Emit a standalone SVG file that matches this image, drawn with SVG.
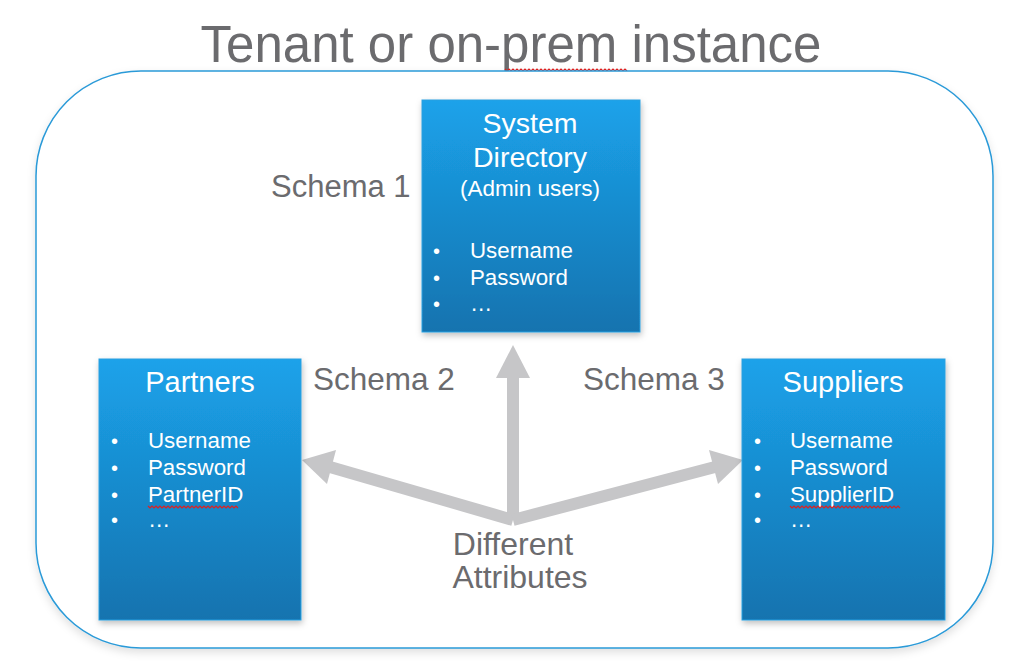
<svg xmlns="http://www.w3.org/2000/svg" width="1024" height="670" viewBox="0 0 1024 670">
  <style>
    .gray { font-family: "Liberation Sans", Arial, sans-serif; fill: #6b6b6e; }
    .w { font-family: "Liberation Sans", Arial, sans-serif; fill: #ffffff; }
    .box { fill: url(#blue); stroke: #2aa0e0; stroke-width: 1; filter: url(#sh); }
    .arr { stroke: #c6c6c8; stroke-width: 12; fill: none; }
    .head { fill: #c6c6c8; }
    .squig { fill: none; stroke: #e02020; stroke-width: 1.2; }
  </style>
  <defs>
    <linearGradient id="blue" x1="0" y1="0" x2="0" y2="1">
      <stop offset="0" stop-color="#1ba2ea"/>
      <stop offset="1" stop-color="#1573af"/>
    </linearGradient>
    <filter id="sh" x="-10%" y="-10%" width="130%" height="130%">
      <feDropShadow dx="1" dy="3" stdDeviation="3" flood-color="#000" flood-opacity="0.25"/>
    </filter>
    <filter id="sh2" x="-5%" y="-5%" width="110%" height="115%">
      <feDropShadow dx="0" dy="4" stdDeviation="4" flood-color="#000" flood-opacity="0.12"/>
    </filter>
  </defs>

  <text class="gray" x="511" y="62" font-size="51" text-anchor="middle">Tenant or on-prem instance</text>
  <path class="squig" d="M505,69 l2,2 l2,-2 l2,2 l2,-2 l2,2 l2,-2 l2,2 l2,-2 l2,2 l2,-2 l2,2 l2,-2 l2,2 l2,-2 l2,2 l2,-2 l2,2 l2,-2 l2,2 l2,-2 l2,2 l2,-2 l2,2 l2,-2 l2,2 l2,-2 l2,2 l2,-2 l2,2 l2,-2 l2,2 l2,-2 l2,2 l2,-2 l2,2 l2,-2 l2,2 l2,-2 l2,2 l2,-2 l2,2 l2,-2 l2,2 l2,-2 l2,2 l2,-2 l2,2 l2,-2 l2,2 l2,-2 l2,2 l2,-2 l2,2 l2,-2 l2,2 l2,-2 l2,2 l2,-2 l2,2 l2,-2 l2,2"/>

  <rect id="outer" x="36" y="71" width="957" height="577" rx="105" ry="105" fill="#ffffff" stroke="#2a9ad8" stroke-width="1.5" filter="url(#sh2)"/>

  <g id="connectors">
    <line class="arr" x1="513" y1="520" x2="513" y2="374"/>
    <polygon class="head" points="513,345 530,378 496,378"/>
    <line class="arr" x1="513" y1="520" x2="330" y2="467"/>
    <polygon class="head" points="302,460 336,450 327,484"/>
    <line class="arr" x1="513" y1="520" x2="715" y2="467"/>
    <polygon class="head" points="743,460 709,450 718,484"/>
  </g>

  <g id="labels">
    <text class="gray" x="271" y="197" font-size="31">Schema 1</text>
    <text class="gray" x="313" y="390" font-size="31.5">Schema 2</text>
    <text class="gray" x="583" y="390" font-size="31.5">Schema 3</text>
    <text class="gray" x="513" y="555" font-size="32" text-anchor="middle">Different</text>
    <text class="gray" x="520" y="588" font-size="32" text-anchor="middle">Attributes</text>
  </g>

  <g id="system-directory">
    <rect class="box" x="422" y="100" width="218" height="232"/>
    <text class="w" x="530" y="133" font-size="28.5" text-anchor="middle">System</text>
    <text class="w" x="530" y="167" font-size="28.5" text-anchor="middle">Directory</text>
    <text class="w" x="530" y="196" font-size="22.5" text-anchor="middle">(Admin users)</text>
    <text class="w" x="433" y="258" font-size="20">•</text>
    <text class="w" x="470" y="258" font-size="22.3">Username</text>
    <text class="w" x="433" y="285" font-size="20">•</text>
    <text class="w" x="470" y="285" font-size="22.3">Password</text>
    <text class="w" x="433" y="311" font-size="20">•</text>
    <text class="w" x="470" y="311" font-size="22.3">…</text>
  </g>

  <g id="partners">
    <rect class="box" x="99" y="359" width="202" height="261"/>
    <text class="w" x="200" y="392" font-size="29" text-anchor="middle">Partners</text>
    <text class="w" x="111" y="448" font-size="20">•</text>
    <text class="w" x="148" y="448" font-size="22.3">Username</text>
    <text class="w" x="111" y="475" font-size="20">•</text>
    <text class="w" x="148" y="475" font-size="22.3">Password</text>
    <text class="w" x="111" y="502" font-size="20">•</text>
    <text class="w" x="148" y="502" font-size="22.3">PartnerID</text>
    <path class="squig" d="M148,506 l2,2 l2,-2 l2,2 l2,-2 l2,2 l2,-2 l2,2 l2,-2 l2,2 l2,-2 l2,2 l2,-2 l2,2 l2,-2 l2,2 l2,-2 l2,2 l2,-2 l2,2 l2,-2 l2,2 l2,-2 l2,2 l2,-2 l2,2 l2,-2 l2,2 l2,-2 l2,2 l2,-2 l2,2 l2,-2 l2,2 l2,-2 l2,2 l2,-2 l2,2 l2,-2 l2,2 l2,-2 l2,2 l2,-2 l2,2 l2,-2 l2,2"/>
    <text class="w" x="111" y="527" font-size="20">•</text>
    <text class="w" x="148" y="527" font-size="22.3">…</text>
  </g>

  <g id="suppliers">
    <rect class="box" x="742" y="359" width="203" height="261"/>
    <text class="w" x="843" y="392" font-size="29" text-anchor="middle">Suppliers</text>
    <text class="w" x="754" y="448" font-size="20">•</text>
    <text class="w" x="790" y="448" font-size="22.3">Username</text>
    <text class="w" x="754" y="475" font-size="20">•</text>
    <text class="w" x="790" y="475" font-size="22.3">Password</text>
    <text class="w" x="754" y="502" font-size="20">•</text>
    <text class="w" x="790" y="502" font-size="22.3">SupplierID</text>
    <path class="squig" d="M790,506 l2,2 l2,-2 l2,2 l2,-2 l2,2 l2,-2 l2,2 l2,-2 l2,2 l2,-2 l2,2 l2,-2 l2,2 l2,-2 l2,2 l2,-2 l2,2 l2,-2 l2,2 l2,-2 l2,2 l2,-2 l2,2 l2,-2 l2,2 l2,-2 l2,2 l2,-2 l2,2 l2,-2 l2,2 l2,-2 l2,2 l2,-2 l2,2 l2,-2 l2,2 l2,-2 l2,2 l2,-2 l2,2 l2,-2 l2,2 l2,-2 l2,2 l2,-2 l2,2 l2,-2 l2,2 l2,-2 l2,2 l2,-2 l2,2 l2,-2 l2,2"/>
    <text class="w" x="754" y="527" font-size="20">•</text>
    <text class="w" x="790" y="527" font-size="22.3">…</text>
  </g>
</svg>
